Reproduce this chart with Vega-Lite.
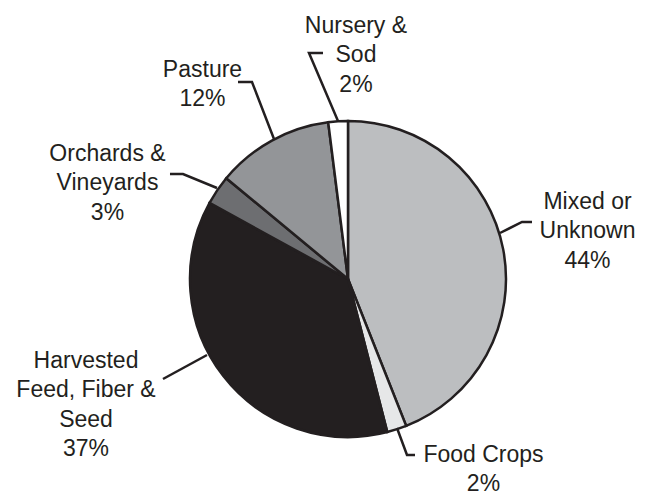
{
  "$schema": "https://vega.github.io/schema/vega-lite/v6.json",
  "width": 652,
  "height": 491,
  "autosize": "none",
  "padding": 0,
  "background": "white",
  "config": {"view": {"stroke": null}},
  "datasets": {
    "slices": [
      {"idx": 1, "category": "Mixed or Unknown", "share": 44},
      {"idx": 2, "category": "Food Crops", "share": 2},
      {"idx": 3, "category": "Harvested Feed, Fiber & Seed", "share": 37},
      {"idx": 4, "category": "Orchards & Vineyards", "share": 3},
      {"idx": 5, "category": "Pasture", "share": 12},
      {"idx": 6, "category": "Nursery & Sod", "share": 2}
    ],
    "leaders": [
      {"name": "Nursery", "seq": 1, "x": -15.82, "y": 143.04},
      {"name": "Nursery", "seq": 2, "x": -24.68, "y": 143.04},
      {"name": "Nursery", "seq": 3, "x": -6.33, "y": 100.0},
      {"name": "Pasture", "seq": 1, "x": -69.62, "y": 124.68},
      {"name": "Pasture", "seq": 2, "x": -60.76, "y": 124.68},
      {"name": "Pasture", "seq": 3, "x": -46.84, "y": 88.61},
      {"name": "Orchards", "seq": 1, "x": -112.66, "y": 66.46},
      {"name": "Orchards", "seq": 2, "x": -104.43, "y": 66.46},
      {"name": "Orchards", "seq": 3, "x": -82.91, "y": 57.59},
      {"name": "Mixed", "seq": 1, "x": 116.46, "y": 36.08},
      {"name": "Mixed", "seq": 2, "x": 110.13, "y": 36.08},
      {"name": "Mixed", "seq": 3, "x": 96.2, "y": 29.11},
      {"name": "Food", "seq": 1, "x": 31.01, "y": -94.3},
      {"name": "Food", "seq": 2, "x": 37.34, "y": -111.39},
      {"name": "Food", "seq": 3, "x": 42.41, "y": -111.39},
      {"name": "Harvested", "seq": 1, "x": -117.09, "y": -63.29},
      {"name": "Harvested", "seq": 2, "x": -89.24, "y": -48.1}
    ],
    "labels": [
      {"label": "Nursery &\nSod\n2%", "x": 5.06, "y": 155.7},
      {"label": "Mixed or\nUnknown\n44%", "x": 151.58, "y": 44.3},
      {"label": "Food Crops\n2%", "x": 85.76, "y": -115.82},
      {"label": "Harvested\nFeed, Fiber &\nSeed\n37%", "x": -165.82, "y": -56.33},
      {"label": "Orchards &\nVineyards\n3%", "x": -152.22, "y": 74.68},
      {"label": "Pasture\n12%", "x": -92.09, "y": 127.85}
    ]
  },
  "layer": [
    {
      "data": {"name": "slices"},
      "mark": {"type": "arc", "outerRadius": 158, "stroke": "#231f20", "strokeWidth": 2.5, "strokeJoin": "miter"},
      "encoding": {
        "x": {"datum": 0, "type": "quantitative", "scale": {"domain": [-220.25, 192.41], "nice": false, "zero": false}, "axis": null},
        "y": {"datum": 0, "type": "quantitative", "scale": {"domain": [-134.18, 176.58], "nice": false, "zero": false}, "axis": null},
        "theta": {"field": "share", "type": "quantitative", "stack": true},
        "order": {"field": "idx", "type": "quantitative"},
        "color": {
          "field": "category",
          "type": "nominal",
          "scale": {
            "domain": ["Mixed or Unknown", "Food Crops", "Harvested Feed, Fiber & Seed", "Orchards & Vineyards", "Pasture", "Nursery & Sod"],
            "range": ["#bcbec0", "#e6e7e8", "#231f20", "#6d6e71", "#939598", "#ffffff"]
          },
          "legend": null
        }
      }
    },
    {
      "data": {"name": "leaders"},
      "mark": {"type": "line", "color": "#231f20", "strokeWidth": 2.5, "strokeJoin": "miter", "strokeCap": "butt"},
      "encoding": {
        "x": {"field": "x", "type": "quantitative", "scale": {"domain": [-220.25, 192.41], "nice": false, "zero": false}, "axis": null},
        "y": {"field": "y", "type": "quantitative", "scale": {"domain": [-134.18, 176.58], "nice": false, "zero": false}, "axis": null},
        "detail": {"field": "name", "type": "nominal"},
        "order": {"field": "seq", "type": "quantitative"}
      }
    },
    {
      "data": {"name": "labels"},
      "mark": {"type": "text", "font": "Liberation Sans", "fontSize": 23, "lineHeight": 29.3, "lineBreak": "\n", "align": "center", "baseline": "alphabetic", "color": "#231f20"},
      "encoding": {
        "x": {"field": "x", "type": "quantitative", "scale": {"domain": [-220.25, 192.41], "nice": false, "zero": false}, "axis": null},
        "y": {"field": "y", "type": "quantitative", "scale": {"domain": [-134.18, 176.58], "nice": false, "zero": false}, "axis": null},
        "text": {"field": "label", "type": "nominal"}
      }
    }
  ]
}
